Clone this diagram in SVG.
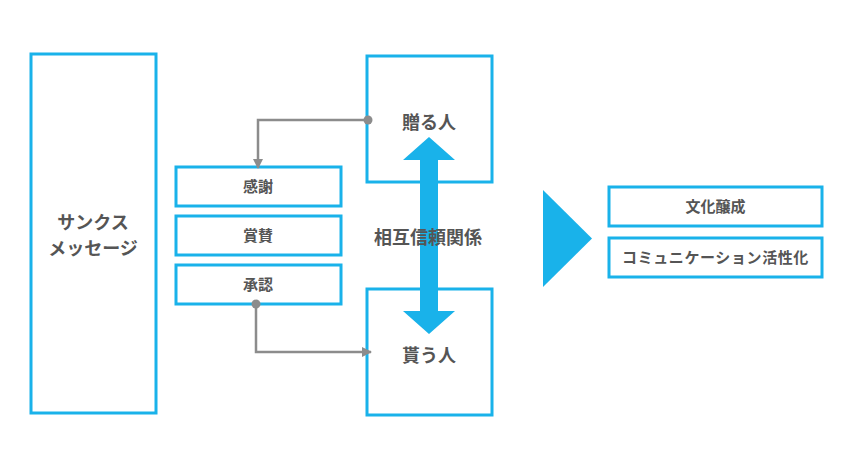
<svg xmlns="http://www.w3.org/2000/svg" width="842" height="453" viewBox="0 0 842 453">
<defs>
<style>
.box{fill:#fff;stroke:#19B2EA;stroke-width:3}
.t{font-family:"Noto Sans CJK JP","Noto Sans CJK SC",sans-serif;font-weight:bold;fill:#555;text-anchor:middle}
.lg{font-size:18px}
.sm{font-size:15px}
.conn{fill:none;stroke:#8c8c8c;stroke-width:2.5}
</style>
<marker id="ah" viewBox="0 0 10 10" refX="9" refY="5" markerWidth="4" markerHeight="4" orient="auto" markerUnits="strokeWidth">
<path d="M0,0 L10,5 L0,10 Z" fill="#8c8c8c"/>
</marker>
</defs>
<rect width="842" height="453" fill="#fff"/>
<g id="thanks-message">
<rect class="box" x="31" y="54" width="125" height="359"/>
<text class="t lg" x="93" y="229">サンクス</text>
<text class="t lg" x="93" y="255">メッセージ</text>
</g>
<g id="kansha">
<rect class="box" x="176" y="167" width="165" height="39"/>
<text class="t sm" x="258" y="192">感謝</text>
</g>
<g id="shousan">
<rect class="box" x="176" y="216" width="165" height="39"/>
<text class="t sm" x="258" y="241">賞賛</text>
</g>
<g id="shounin">
<rect class="box" x="176" y="265" width="165" height="39"/>
<text class="t sm" x="258" y="290">承認</text>
</g>
<g id="giver">
<rect class="box" x="367" y="56" width="125" height="126"/>
<text class="t lg" x="429" y="129">贈る人</text>
</g>
<g id="receiver">
<rect class="box" x="367" y="289" width="125" height="126"/>
<text class="t lg" x="429" y="362">貰う人</text>
</g>
<g id="mutual-arrow">
<path d="M429,137 L455,160 L438,160 L438,311 L455,311 L429,334 L403,311 L420,311 L420,160 L403,160 Z" fill="#19B2EA"/>
<text class="t lg" x="428" y="244">相互信頼関係</text>
</g>
<g id="triangle">
<path d="M543,190 L592,238.5 L543,287 Z" fill="#19B2EA"/>
</g>
<g id="culture">
<rect class="box" x="609" y="187" width="213" height="39"/>
<text class="t sm" x="715.5" y="212">文化醸成</text>
</g>
<g id="communication">
<rect class="box" x="609" y="238" width="213" height="39"/>
<text class="t sm" x="715.5" y="263" letter-spacing="0.6">コミュニケーション活性化</text>
</g>
<g id="connectors">
<path class="conn" d="M368,120 L258,120 L258,168" marker-end="url(#ah)"/>
<circle cx="368" cy="120" r="4.5" fill="#8c8c8c"/>
<path class="conn" d="M256,304 L256,352 L371,352" marker-end="url(#ah)"/>
<circle cx="256" cy="304" r="4.5" fill="#8c8c8c"/>
</g>
</svg>
